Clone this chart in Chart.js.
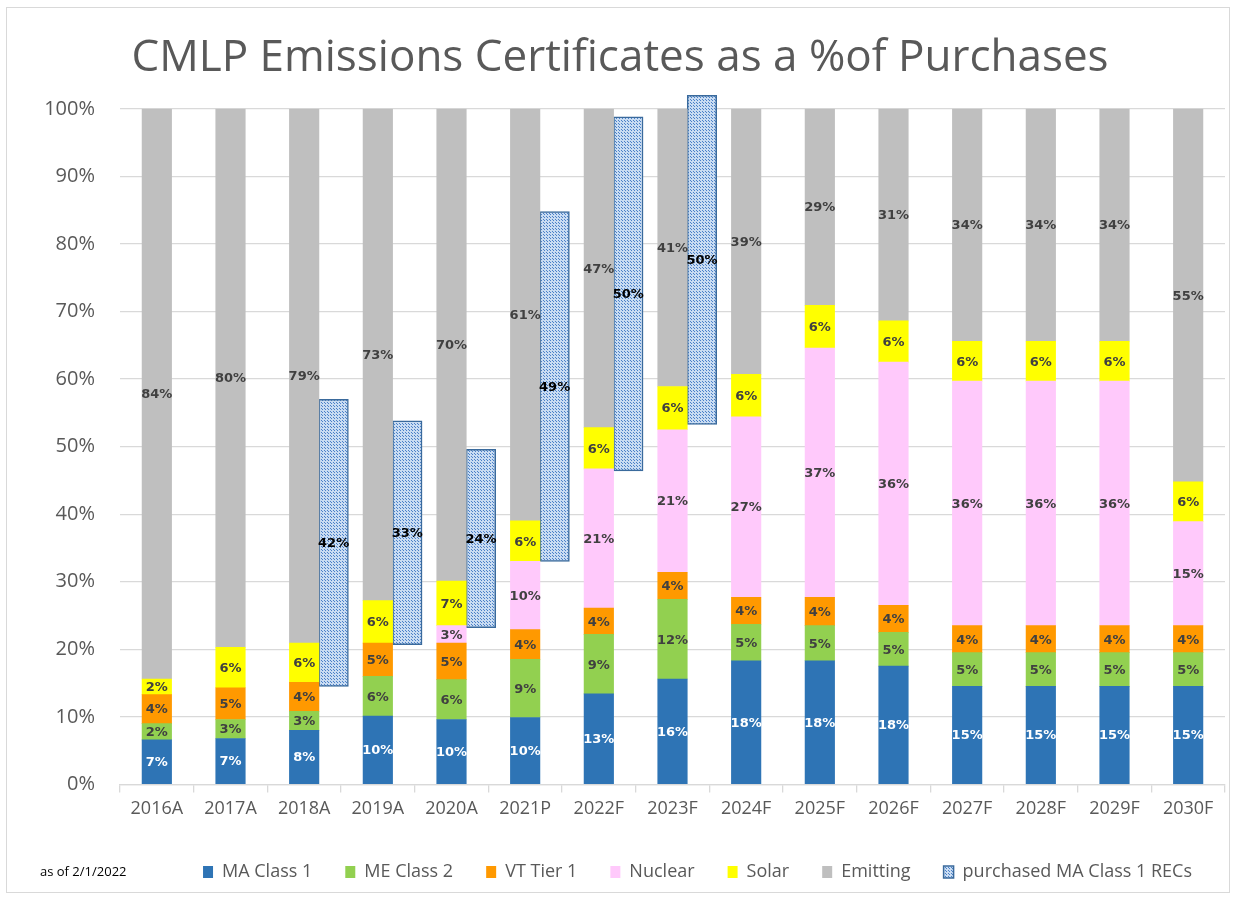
<!DOCTYPE html>
<html>
<head>
<meta charset="utf-8">
<script src="https://cdn.jsdelivr.net/npm/chart.js@4.4.1/dist/chart.umd.min.js"></script>
<style>
  html, body { margin: 0; padding: 0; background: #fff; }
  #wrap { position: relative; width: 1236px; height: 899px; }
  #frame { position: absolute; left: 6px; top: 7px; width: 1222px; height: 884px; border: 1px solid #d9d9d9; }
  #chart { position: absolute; left: 0; top: 0; }
  #nota { position: absolute; left: 40px; top: 862px; font: 13px 'Open Sans', sans-serif; color: #000; }
</style>
</head>
<body>
<div id="wrap">
  <div id="frame"></div>
  <canvas id="chart" width="1236" height="899"></canvas>
  <div id="nota">as of 2/1/2022</div>
</div>
<script>
const categorias = ["2016A", "2017A", "2018A", "2019A", "2020A", "2021P", "2022F", "2023F", "2024F", "2025F", "2026F", "2027F", "2028F", "2029F", "2030F"];

// % of purchases
const maClass1 = [6.6, 6.8, 8.0, 10.1, 9.6, 9.9, 13.4, 15.6, 18.3, 18.3, 17.5, 14.5, 14.5, 14.5, 14.5];
const meClass2 = [2.4, 2.8, 2.8, 5.9, 5.9, 8.6, 8.8, 11.8, 5.4, 5.2, 5.0, 5.0, 5.0, 5.0, 5.0];
const vtTier1 = [4.3, 4.7, 4.3, 4.9, 5.4, 4.4, 3.9, 4.0, 4.0, 4.2, 4.0, 4.0, 4.0, 4.0, 4.0];
const nuclear = [null, null, null, null, 2.6, 10.1, 20.6, 21.1, 26.7, 36.9, 36.0, 36.2, 36.2, 36.2, 15.4];
const solar = [2.3, 6.0, 5.8, 6.3, 6.6, 6.0, 6.1, 6.4, 6.3, 6.3, 6.1, 5.9, 5.9, 5.9, 5.9];
const emitting = [84.4, 79.7, 79.1, 72.8, 69.9, 61.0, 47.2, 41.1, 39.3, 29.1, 31.4, 34.4, 34.4, 34.4, 55.2];

// purchased MA Class 1 RECs (floating bars beside the stack)
const recCategorias = ["2018A", "2019A", "2020A", "2021P", "2022F", "2023F"];
const recInicio = [14.5, 20.7, 23.2, 33.0, 46.4, 53.3];
const recFim = [57.0, 53.8, 49.6, 84.8, 98.8, 102.0];
const recPct = [42, 33, 24, 49, 50, 50];

const yTicks = [0, 10, 20, 30, 40, 50, 60, 70, 80, 90, 100];

const CINZA_TEXTO = "#595959";
const LARGURA_BARRA = 29.5;
// the REC bar sits right next to the stack: offset = one bar width (29.5px of a 73.7px category)
const DESLOCAMENTO_REC = 0.4;

const criarPadrao = () => {
  const c = document.createElement("canvas");
  c.width = 3;
  c.height = 3;
  const g = c.getContext("2d");
  g.fillStyle = "#c9dcf2";
  g.fillRect(0, 0, 3, 3);
  g.fillStyle = "#4a80c8";
  g.fillRect(0, 0, 1, 1);
  g.fillRect(1, 1, 1, 1);
  return g.createPattern(c, "repeat");
};

const rotulosPlugin = {
  id: "rotulos",
  afterDatasetsDraw(chart) {
    const { ctx } = chart;
    ctx.save();
    ctx.font = "bold 13px 'DejaVu Sans', sans-serif";
    ctx.textAlign = "center";
    ctx.textBaseline = "middle";
    chart.data.datasets.forEach((ds, i) => {
      const meta = chart.getDatasetMeta(i);
      meta.data.forEach((bar, j) => {
        const raw = ds.data[j];
        if (raw == null) return;
        const texto = ds.rotulos ? `${ds.rotulos[j]}%` : `${Math.round(raw)}%`;
        const { x, y, base } = bar.getProps(["x", "y", "base"], true);
        ctx.fillStyle = ds.corRotulo;
        ctx.fillText(texto, x, (y + base) / 2 + 1);
      });
    });
    ctx.restore();
  },
};

const serie = (label, data, cor, corRotulo) => ({
  label,
  data,
  backgroundColor: cor,
  borderWidth: 0,
  stack: "main",
  corRotulo,
});

const ctx = document.getElementById("chart").getContext("2d");

new Chart(ctx, {
  type: "bar",
  data: {
    labels: categorias,
    datasets: [
      serie("MA Class 1", maClass1, "#2e74b5", "#ffffff"),
      serie("ME Class 2", meClass2, "#92d050", "#404040"),
      serie("VT Tier 1", vtTier1, "#ff9900", "#404040"),
      serie("Nuclear", nuclear, "#ffc9fb", "#404040"),
      serie("Solar", solar, "#ffff00", "#404040"),
      serie("Emitting", emitting, "#bfbfbf", "#404040"),
      {
        label: "purchased MA Class 1 RECs",
        data: recCategorias.map((c, k) => ({
          x: categorias.indexOf(c) + DESLOCAMENTO_REC,
          y: [recInicio[k], recFim[k]],
        })),
        rotulos: recPct,
        corRotulo: "#000000",
        backgroundColor: criarPadrao(),
        borderColor: "#3a6a9c",
        borderWidth: 1.5,
        borderSkipped: false,
        xAxisID: "x2",
        stack: "rec",
        clip: false,
      },
    ],
  },
  options: {
    responsive: false,
    animation: false,
    // no grouping: every bar is drawn at its own x value
    grouped: false,
    barThickness: LARGURA_BARRA,
    layout: { padding: { left: 15, right: 11, top: 0, bottom: 8 } },
    plugins: {
      tooltip: { enabled: false },
      title: {
        display: true,
        text: "CMLP Emissions Certificates as a %of Purchases",
        color: CINZA_TEXTO,
        font: { family: "'Open Sans', sans-serif", size: 44, weight: "normal" },
        padding: { top: 32, bottom: 24 },
      },
      legend: {
        position: "bottom",
        fullSize: false,
        align: "end",
        labels: {
          color: CINZA_TEXTO,
          font: { family: "'Open Sans', sans-serif", size: 18 },
          boxWidth: 10,
          boxHeight: 12,
          padding: 33,
        },
      },
    },
    scales: {
      x: {
        afterFit: (scale) => {
          scale.height += 4;
        },
        grid: { drawOnChartArea: false, drawTicks: true, tickLength: 8, color: "#d9d9d9", lineWidth: 1.3 },
        border: { color: "#d9d9d9", width: 1.3 },
        ticks: { color: CINZA_TEXTO, font: { family: "'Open Sans', sans-serif", size: 18 }, padding: 6 },
      },
      x2: {
        type: "linear",
        display: false,
        offset: false,
        min: -0.5,
        max: categorias.length - 0.5,
      },
      y: {
        stacked: true,
        min: yTicks[0],
        max: yTicks[yTicks.length - 1],
        afterBuildTicks: (scale) => {
          scale.ticks = yTicks.map((v) => ({ value: v }));
        },
        afterFit: (scale) => {
          scale.width = 105;
        },
        grid: { color: "#d9d9d9", lineWidth: 1.3, drawTicks: false },
        border: { display: false },
        ticks: {
          color: CINZA_TEXTO,
          font: { family: "'Open Sans', sans-serif", size: 20 },
          padding: 25,
          callback: (v) => `${v}%`,
        },
      },
    },
  },
  plugins: [rotulosPlugin],
});
</script>
</body>
</html>
